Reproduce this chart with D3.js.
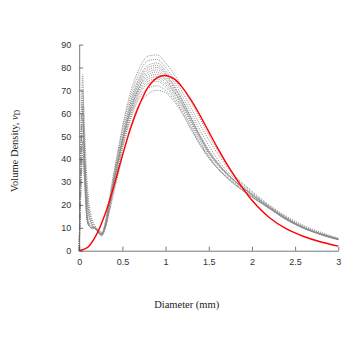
<!DOCTYPE html>
<html>
<head>
<meta charset="utf-8">
<script src="https://cdn.jsdelivr.net/npm/d3@7"></script>
<style>
  html, body { margin: 0; padding: 0; background: #fff; }
  svg { display: block; }
</style>
</head>
<body>
<svg id="chart" width="360" height="359"></svg>
<script>
// ---- data ----
const xTicks = [0, 0.5, 1, 1.5, 2, 2.5, 3];
const xTickLabels = ["0", "0.5", "1", "1.5", "2", "2.5", "3"];
const yTicks = [0, 10, 20, 30, 40, 50, 60, 70, 80, 90];
const yTickLabels = ["0", "10", "20", "30", "40", "50", "60", "70", "80", "90"];

// sample diameters (mm) for the measured (grey dotted) curves
const grayX = [0, 0.02, 0.04, 0.06, 0.08, 0.1, 0.14, 0.18, 0.22, 0.26, 0.3, 0.35, 0.4, 0.45, 0.5, 0.6, 0.7, 0.8, 0.9, 1.0, 1.1, 1.2, 1.3, 1.4, 1.5, 1.6, 1.8, 2.0, 2.2, 2.4, 2.6, 2.8, 3.0];
const gray1  = [0, 50, 77, 48, 24, 14, 11, 10, 8, 7, 12, 23, 34, 44, 54, 70, 80, 85, 85.5, 82, 77, 71, 64.5, 57.5, 50.5, 44, 33, 26, 20, 15, 11, 8, 5.5];
const gray2  = [0, 45, 70, 55, 38, 26, 15, 11, 8.5, 7, 12, 22, 33, 43, 53, 68, 78, 83, 83.5, 80, 75, 69, 62, 55, 48.5, 42.5, 32.5, 25.5, 19.5, 14.5, 10.5, 7.5, 5.2];
const gray3  = [0, 38, 63, 42, 21, 12, 10, 10, 8.5, 7.5, 11, 21, 32, 42, 51, 66, 76, 81, 82, 78.5, 73.5, 67, 60, 52.5, 46, 40, 31.5, 25, 19.5, 14.5, 10.5, 7.5, 5.3];
const gray4  = [0, 42, 55, 45, 32, 22, 14, 11, 9, 7, 10, 20, 30, 40, 49, 65, 75, 80, 81, 77.5, 72, 65.5, 58, 50.5, 44, 38.5, 30.5, 24.5, 19, 14, 10, 7.3, 5];
const gray5  = [0, 35, 48, 35, 19, 12, 10, 9.5, 8.5, 7, 11, 21, 31, 40, 49, 64, 74, 79, 80, 77, 71.5, 65, 57.5, 50, 43.5, 38.5, 30.5, 24.5, 19, 14, 10, 7.3, 5];
const gray6  = [0, 40, 62, 42, 22, 13, 10, 10, 8, 6.5, 10, 20, 30, 39, 48, 63, 73, 78, 79, 76, 71, 65, 57.5, 50, 43.5, 38.5, 30.5, 24.5, 19, 14, 10, 7.2, 5];
const gray7  = [0, 30, 45, 40, 30, 20, 13, 10, 8, 7, 10.5, 20, 30, 39, 48, 62, 72, 77, 78, 75, 70, 64, 57, 49.5, 43, 38, 30.5, 24.5, 19, 14, 10, 7.2, 5];
const gray8  = [0, 44, 66, 43, 21, 12, 10, 10, 8.5, 7.5, 11, 21, 31, 40, 48, 62, 71.5, 76, 77, 74.5, 69.5, 63.5, 56.5, 49.5, 43, 38, 30.5, 24.5, 19, 14, 10, 7.2, 5];
const gray9  = [0, 36, 52, 42, 26, 17, 12, 10, 9, 8, 10, 19, 29, 38, 47, 61, 70.5, 75, 76, 73.5, 69, 63, 56, 49, 42.5, 37.5, 30, 24, 18.5, 14, 10, 7.2, 5];
const gray10 = [0, 28, 42, 32, 18, 12, 10, 10, 8, 7, 10, 19, 28, 37, 46, 60, 69.5, 74, 75, 72.5, 68, 62, 55, 48, 41.5, 36.5, 29.5, 23.5, 18.5, 13.5, 9.8, 7, 4.8];
const gray11 = [0, 38, 58, 40, 21, 13, 10.5, 10, 8.5, 7.5, 10, 18, 27, 36, 45, 59, 68.5, 73, 74, 71.5, 67, 61, 54, 47, 41, 36, 29, 23.5, 18.5, 13.5, 9.8, 7, 4.8];
const gray12 = [0, 32, 47, 38, 28, 19, 12, 10, 8, 6.5, 9.5, 18, 27, 35, 44, 58, 67, 71, 72, 70, 66, 60, 53, 46.5, 40.5, 36, 29, 23.5, 18.5, 13.5, 9.8, 7, 4.8];
const gray13 = [0, 26, 40, 31, 18, 12, 10, 10, 9, 8, 10, 17, 25, 33, 41, 55, 64, 68.5, 70, 69, 65, 59.5, 52.5, 46, 40.5, 36, 29, 23.5, 18.5, 13.5, 9.8, 7, 4.8];
const graySeries = [gray1, gray2, gray3, gray4, gray5, gray6, gray7, gray8, gray9, gray10, gray11, gray12, gray13];

// fitted (red) curve
const redX = [0, 0.1, 0.2, 0.3, 0.4, 0.5, 0.6, 0.7, 0.8, 0.9, 1.0, 1.1, 1.2, 1.3, 1.4, 1.5, 1.6, 1.7, 1.8, 1.9, 2.0, 2.2, 2.4, 2.6, 2.8, 3.0];
const redY = [0, 1.5, 7, 16, 28, 41.5, 54, 64, 71.5, 75.5, 76.5, 75, 71, 65.5, 59, 52, 45, 38.5, 32.5, 27, 22, 14.5, 9.5, 6.2, 3.8, 2];

const xLabel = "Diameter (mm)";
const yLabelMain = "Volume Density, ";
const yLabelVar = "v";
const yLabelSub = "D";

// ---- drawing ----
const svg = d3.select("#chart");
const x = d3.scaleLinear().domain([0, 3]).range([79.2, 338.3]);
const y = d3.scaleLinear().domain([0, 90]).range([250.7, 44.6]);

const grayLine = d3.line().x(d => x(d[0])).y(d => y(d[1])).curve(d3.curveMonotoneX);
const redLine = d3.line().x(d => x(d[0])).y(d => y(d[1])).curve(d3.curveCatmullRom.alpha(0.5));

const gGray = svg.append("g");
graySeries.forEach(s => {
  gGray.append("path")
    .attr("d", grayLine(grayX.map((v, i) => [v, s[i]])))
    .attr("fill", "none")
    .attr("stroke", "#8c8c8c")
    .attr("stroke-width", 1)
    .attr("stroke-dasharray", "1,1.2");
});

svg.append("path")
  .attr("d", redLine(redX.map((v, i) => [v, redY[i]])))
  .attr("fill", "none")
  .attr("stroke", "#ff0000")
  .attr("stroke-width", 1.4);

// axes (ticks inside, no box)
const xAxis = d3.axisBottom(x).tickValues(xTicks)
  .tickFormat((d, i) => xTickLabels[i]).tickSizeInner(-4).tickSizeOuter(0).tickPadding(8);
const yAxis = d3.axisLeft(y).tickValues(yTicks)
  .tickFormat((d, i) => yTickLabels[i]).tickSizeInner(-4).tickSizeOuter(0).tickPadding(8);

const gx = svg.append("g").attr("transform", `translate(0,${y(0)})`).call(xAxis);
const gy = svg.append("g").attr("transform", `translate(${x(0)},0)`).call(yAxis);
[gx, gy].forEach(g => {
  g.select(".domain").attr("stroke", "#555").attr("stroke-width", 0.8);
  g.selectAll(".tick line").attr("stroke", "#555").attr("stroke-width", 0.8);
  g.selectAll(".tick text").attr("fill", "#333")
    .attr("font-family", "'Liberation Sans', Arial, sans-serif").attr("font-size", 9);
});

svg.append("text")
  .attr("x", 186.7).attr("y", 307.5)
  .attr("text-anchor", "middle")
  .attr("font-family", "'Liberation Serif', 'Times New Roman', serif")
  .attr("font-size", 10.5).attr("fill", "#222")
  .text(xLabel);

const yl = svg.append("text")
  .attr("transform", "translate(18,151) rotate(-90)")
  .attr("text-anchor", "middle")
  .attr("font-family", "'Liberation Serif', 'Times New Roman', serif")
  .attr("font-size", 10.5).attr("fill", "#222");
yl.append("tspan").text(yLabelMain);
yl.append("tspan").attr("font-style", "italic").text(yLabelVar);
yl.append("tspan").attr("font-size", 7.5).attr("dy", 2).text(yLabelSub);
</script>
</body>
</html>
